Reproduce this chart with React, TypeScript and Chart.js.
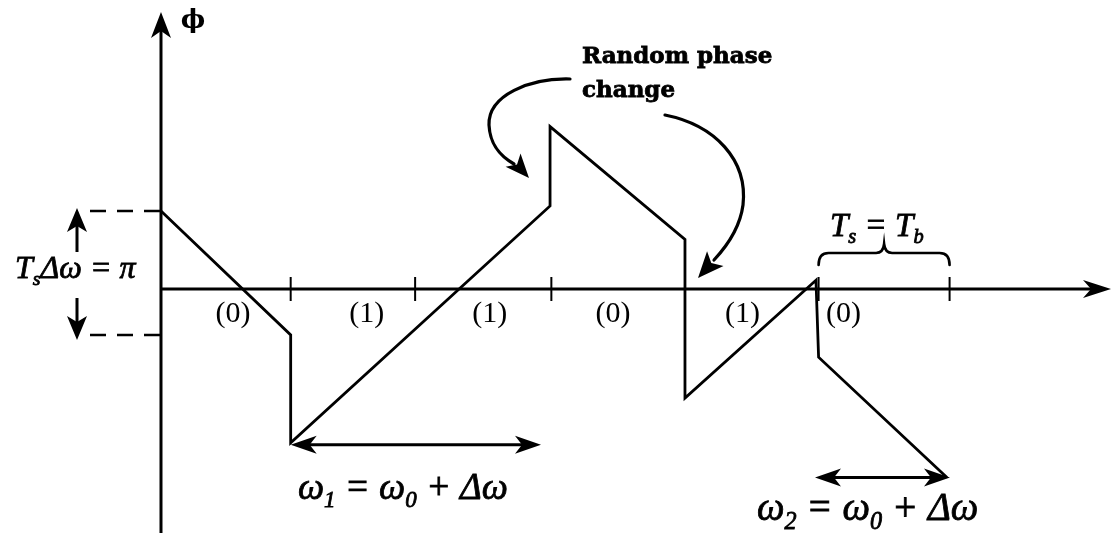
import React, { useEffect, useRef } from "react";
import { Chart, registerables } from "chart.js";

Chart.register(...registerables);

// Time in symbol periods (T_s), phase in units of pi
const symbolTimes = [0, 0.99, 0.99, 2.97, 2.97, 4.0, 4.0, 5.0, 5.02, 6.0];
const phaseValues = [0.63, -0.37, -1.24, 0.67, 1.31, 0.4, -0.88, 0.07, -0.55, -1.52];
const tickTimes = [0.99, 1.94, 2.98, 4.0, 5.02, 6.02];
const bitLabels = ["(0)", "(1)", "(1)", "(0)", "(1)", "(0)"];
const bitLabelTimes = [0.55, 1.57, 2.51, 3.45, 4.44, 5.21];
const rangeLevels = [0.63, -0.37];

const X_MIN = -1.229;
const X_MAX = 7.298;
const Y_MIN = -1.968;
const Y_MAX = 2.331;

const SERIF = '"Liberation Serif", "Times New Roman", serif';

type Part = { t: string; sub?: boolean; upright?: boolean };

function drawRich(ctx: CanvasRenderingContext2D, parts: Part[], x: number, y: number, size: number) {
  ctx.save();
  let cx = x;
  for (const p of parts) {
    const s = p.sub ? size * 0.62 : size;
    ctx.font = `${p.upright ? "" : "italic "}${s}px ${SERIF}`;
    const yy = p.sub ? y + size * 0.22 : y;
    ctx.fillText(p.t, cx, yy);
    ctx.lineWidth = 0.8;
    ctx.strokeText(p.t, cx, yy);
    cx += ctx.measureText(p.t).width;
  }
  ctx.restore();
}

function arrowHead(ctx: CanvasRenderingContext2D, tx: number, ty: number, ang: number, len = 24, half = 9, notch = 7) {
  const c = Math.cos(ang), s = Math.sin(ang);
  const bx = tx - c * len, by = ty - s * len;
  const nx = tx - c * (len - notch), ny = ty - s * (len - notch);
  ctx.beginPath();
  ctx.moveTo(tx, ty);
  ctx.lineTo(bx - s * half, by + c * half);
  ctx.lineTo(nx, ny);
  ctx.lineTo(bx + s * half, by - c * half);
  ctx.closePath();
  ctx.fill();
}

const diagramPlugin = {
  id: "diagram",
  afterDatasetsDraw(chart: any) {
    const ctx: CanvasRenderingContext2D = chart.ctx;
    const xs = chart.scales.x;
    const ys = chart.scales.y;
    const X = (t: number) => xs.getPixelForValue(t);
    const Y = (p: number) => ys.getPixelForValue(p);
    const x0 = X(0);
    const y0 = Y(0);
    ctx.save();
    ctx.strokeStyle = "#000";
    ctx.fillStyle = "#000";
    ctx.lineCap = "butt";

    // axes
    ctx.lineWidth = 3;
    ctx.beginPath();
    ctx.moveTo(x0, y0);
    ctx.lineTo(1096, y0);
    ctx.stroke();
    arrowHead(ctx, 1111, y0, 0, 28, 9, 8);
    ctx.beginPath();
    ctx.moveTo(x0, 533);
    ctx.lineTo(x0, 28);
    ctx.stroke();
    arrowHead(ctx, x0, 12, -Math.PI / 2, 26, 10, 7);

    // ticks
    ctx.lineWidth = 2;
    for (const t of tickTimes) {
      ctx.beginPath();
      ctx.moveTo(X(t), y0 - 12);
      ctx.lineTo(X(t), y0 + 12);
      ctx.stroke();
    }

    // dashed level lines
    ctx.lineWidth = 2.5;
    ctx.setLineDash([16, 11]);
    for (const lv of rangeLevels) {
      ctx.beginPath();
      ctx.moveTo(90, Y(lv));
      ctx.lineTo(x0, Y(lv));
      ctx.stroke();
    }
    ctx.setLineDash([]);

    // left double arrow
    ctx.lineWidth = 3;
    ctx.beginPath();
    ctx.moveTo(77, Y(rangeLevels[0]) + 10);
    ctx.lineTo(77, 252);
    ctx.moveTo(77, 298);
    ctx.lineTo(77, Y(rangeLevels[1]) - 10);
    ctx.stroke();
    arrowHead(ctx, 77, Y(rangeLevels[0]) - 3, -Math.PI / 2, 24, 10, 6);
    arrowHead(ctx, 77, Y(rangeLevels[1]) + 5, Math.PI / 2, 24, 10, 6);

    ctx.textAlign = "left";
    ctx.textBaseline = "alphabetic";
    drawRich(ctx, [{ t: "T" }, { t: "s", sub: true }, { t: "Δω = π" }], 15, 278, 32);

    // phi label
    ctx.textAlign = "center";
    ctx.textBaseline = "middle";
    ctx.font = `bold 26px "DejaVu Serif", serif`;
    ctx.fillText("ϕ", 193, 21);

    // bit labels
    ctx.font = `30px ${SERIF}`;
    for (let i = 0; i < bitLabels.length; i++) {
      ctx.fillText(bitLabels[i], X(bitLabelTimes[i]), y0 + 25);
    }

    // random phase change label
    ctx.textAlign = "left";
    ctx.textBaseline = "alphabetic";
    ctx.font = `bold 23px "DejaVu Serif", serif`;
    ctx.lineWidth = 0.8;
    ctx.fillText("Random phase", 582, 63);
    ctx.strokeText("Random phase", 582, 63);
    ctx.fillText("change", 582, 97);
    ctx.strokeText("change", 582, 97);

    // curved arrows
    ctx.lineWidth = 3.2;
    ctx.lineCap = "round";
    ctx.beginPath();
    ctx.moveTo(570, 79);
    ctx.bezierCurveTo(530, 78, 488, 95, 489, 125);
    ctx.bezierCurveTo(490, 145, 500, 156, 514, 164);
    ctx.stroke();
    arrowHead(ctx, 529, 178, Math.atan2(178 - 160, 529 - 513), 24, 10, 6);

    ctx.beginPath();
    ctx.moveTo(665, 115);
    ctx.bezierCurveTo(715, 125, 748, 160, 743, 205);
    ctx.bezierCurveTo(740, 228, 728, 245, 714, 260);
    ctx.stroke();
    arrowHead(ctx, 698, 278, Math.atan2(278 - 260, 698 - 714), 26, 11, 6);

    // brace T_s = T_b
    const bL = X(tickTimes[4]);
    const bR = X(tickTimes[5]);
    const bM = (bL + bR) / 2;
    ctx.lineWidth = 2.6;
    ctx.beginPath();
    ctx.moveTo(bL, 265);
    ctx.quadraticCurveTo(bL, 253, bL + 10, 253);
    ctx.lineTo(bM - 8, 253);
    ctx.quadraticCurveTo(bM - 1, 253, bM, 244);
    ctx.quadraticCurveTo(bM + 1, 253, bM + 8, 253);
    ctx.lineTo(bR - 10, 253);
    ctx.quadraticCurveTo(bR, 253, bR, 265);
    ctx.stroke();
    ctx.lineCap = "butt";
    drawRich(ctx, [{ t: "T" }, { t: "s", sub: true }, { t: " = " }, { t: "T" }, { t: "b", sub: true }], 830, 236, 33);

    // frequency double arrows
    const a1y = Y(phaseValues[2]) + 2;
    const a1l = X(symbolTimes[2]);
    const a1r = 541;
    ctx.lineWidth = 3;
    ctx.beginPath();
    ctx.moveTo(a1l + 12, a1y);
    ctx.lineTo(a1r - 12, a1y);
    ctx.stroke();
    arrowHead(ctx, a1l, a1y, Math.PI, 26, 9, 7);
    arrowHead(ctx, a1r, a1y, 0, 26, 9, 7);
    drawRich(ctx, [{ t: "ω" }, { t: "1", sub: true }, { t: " = " }, { t: "ω" }, { t: "0", sub: true }, { t: " + Δω" }], 298, 499, 37);

    const a2y = Y(phaseValues[9]);
    const a2r = X(symbolTimes[9]) + 3;
    const a2l = 815;
    ctx.lineWidth = 3;
    ctx.beginPath();
    ctx.moveTo(a2l + 12, a2y);
    ctx.lineTo(a2r - 12, a2y);
    ctx.stroke();
    arrowHead(ctx, a2l, a2y, Math.PI, 26, 9, 7);
    arrowHead(ctx, a2r, a2y, 0, 26, 9, 7);
    drawRich(ctx, [{ t: "ω" }, { t: "2", sub: true }, { t: " = " }, { t: "ω" }, { t: "0", sub: true }, { t: " + Δω" }], 757, 520, 39);

    ctx.restore();
  },
};

export default function App() {
  const ref = useRef<HTMLCanvasElement | null>(null);
  useEffect(() => {
    document.body.style.margin = "0";
    const canvas = ref.current;
    if (!canvas) return;
    const chart = new Chart(canvas, {
      type: "line",
      data: {
        datasets: [
          {
            data: symbolTimes.map((t, i) => ({ x: t, y: phaseValues[i] })),
            borderColor: "#000",
            borderWidth: 2.8,
            pointRadius: 0,
            tension: 0,
            fill: false,
            borderJoinStyle: "miter",
          },
        ],
      },
      options: {
        animation: false,
        responsive: false,
        devicePixelRatio: 1,
        layout: { padding: 0 },
        plugins: { legend: { display: false }, tooltip: { enabled: false } },
        scales: {
          x: { type: "linear", min: X_MIN, max: X_MAX, display: false },
          y: { type: "linear", min: Y_MIN, max: Y_MAX, display: false },
        },
      },
      plugins: [diagramPlugin],
    });
    return () => chart.destroy();
  }, []);
  return (
    <div style={{ position: "absolute", left: 0, top: 0, width: 1117, height: 533, background: "#fff" }}>
      <canvas ref={ref} width={1117} height={533} />
    </div>
  );
}
